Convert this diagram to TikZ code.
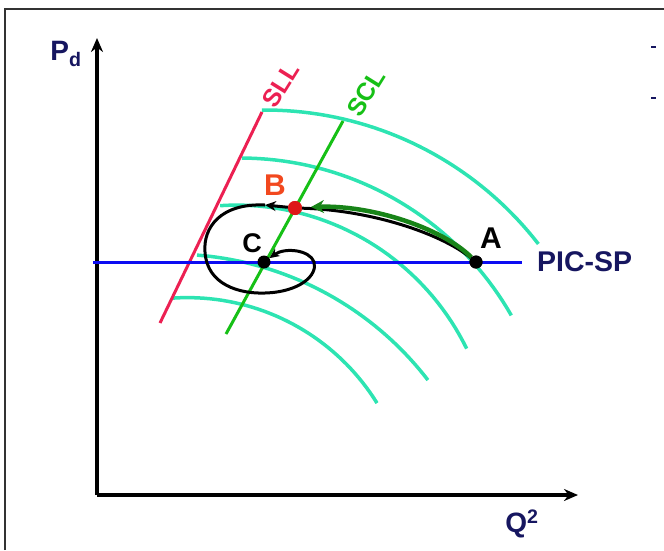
\documentclass[tikz,border=0pt]{standalone}
\usepackage{fontspec}
\setmainfont{Liberation Sans}
\usetikzlibrary{arrows.meta,positioning}
\definecolor{isoc}{RGB}{45,228,178}
\definecolor{sllc}{RGB}{236,32,82}
\definecolor{sclc}{RGB}{22,192,22}
\definecolor{pinc}{RGB}{12,12,242}
\definecolor{navy}{RGB}{22,22,96}
\definecolor{bred}{RGB}{222,24,24}
\definecolor{borange}{RGB}{242,72,30}
\definecolor{garr}{RGB}{24,132,24}
\begin{document}
\begin{tikzpicture}[x=1pt,y=-1pt,>=Stealth,font=\bfseries]
\tikzstyle{iso}=[draw=isoc,line width=3.5pt,samples=40]
\tikzstyle{ax}=[line width=3.5pt,-{Stealth[length=14pt,width=12pt]}]
\tikzstyle{pt}=[circle,fill=black,inner sep=0pt,minimum size=13pt]
\tikzstyle{big}=[inner sep=0pt,font=\fontsize{30}{34}\selectfont\bfseries]
\tikzstyle{tag}=[inner sep=0pt,font=\fontsize{25}{28}\selectfont\bfseries,rotate=58]
\tikzstyle{crv}=[line width=3pt]
\useasboundingbox (0,0) rectangle (664,550);
\draw[line width=1.5pt,black!80] (5,550) -- (5,9) -- (664,9);
\draw[navy,line width=1.5pt] (651,47) -- (656,47); \draw[navy,line width=1.5pt] (651,98) -- (656,98);
% axes
\coordinate (O) at (97,495); \coordinate (ytop) at (97,38); \coordinate (xend) at (578,495);
\draw[ax] (O) -- (ytop); \draw[ax] (O) -- (xend);
\node[big,text=navy,font=\fontsize{28}{32}\selectfont\bfseries] (pd) at (66,54) {P\textsubscript{d}};
\node[big,text=navy,font=\fontsize{28}{32}\selectfont\bfseries] (q2) at (522,524) {Q\textsuperscript{2}};
% iso curves
\draw[iso] plot[domain=-90.5:-37.8] ({265+346*cos(\x)},{456+346*sin(\x)});
\draw[iso] plot[domain=-89.65:-29.75] ({240.1+312.4*cos(\x)},{470.4+312.4*sin(\x)});
\draw[iso] plot[domain=-93.7:-26.06] ({236.7+256*cos(\x)},{461.1+256*sin(\x)});
\draw[iso] plot[domain=-85.56:-37.6] ({172+323*cos(\x)},{577.1+323*sin(\x)});
\draw[iso] plot[domain=-93.7:-31.8] ({187.5+223*cos(\x)},{520.6+223*sin(\x)});
% limit lines
\coordinate (sll0) at (160,323); \coordinate (sll1) at (262,112); \coordinate (scl0) at (226,334); \coordinate (scl1) at (343,121);
\draw[sllc,line width=3pt] (sll0) -- (sll1); \draw[sclc,line width=3pt] (scl0) -- (scl1);
\node[tag,text=sllc] (lsll) at (281,85) {SLL}; \node[tag,text=sclc] (lscl) at (366,93) {SCL};
\coordinate (p0) at (93,262); \coordinate (p1) at (522,262);
\draw[pinc,line width=3pt] (p0) -- (p1);
\node[big,text=navy,font=\fontsize{28.5}{32}\selectfont\bfseries,right=15pt of p1] (lpic) {PIC-SP};
% operating points
\node[pt] (A) at (476,262) {}; \node[pt] (C) at (264,262) {}; \node[pt,fill=bred,minimum size=14pt] (B) at (295,208) {};
\node[big] (lA) at (491,238) {A}; \node[big,text=borange] (lB) at (275,185) {B}; \node[big,font=\fontsize{27}{30}\selectfont\bfseries] (lC) at (252,243) {C};
% trajectories
\coordinate (m1) at (265,205); \coordinate (gtip) at (311,207);
\draw[crv] (A) .. controls (440,233) and (370,210) .. (B);
\draw[crv,-{Stealth[length=11pt,width=10pt]}] (B) -- (m1);
\draw[crv,-{Stealth[length=10pt,width=9pt]}] (m1) .. controls (220,203) and (203,228) .. (205,252) .. controls (207,285) and (240,294) .. (265,293) .. controls (300,292) and (318,275) .. (314,262) .. controls (310,250) and (285,247) .. (C);
\draw[garr,line width=4.5pt,-{Stealth[length=13pt,width=13pt]}] (A) .. controls (442,228) and (372,205) .. (gtip);
\node[pt] at (A) {}; \node[pt,fill=bred,minimum size=14pt] at (B) {};
\end{tikzpicture}
\end{document}
